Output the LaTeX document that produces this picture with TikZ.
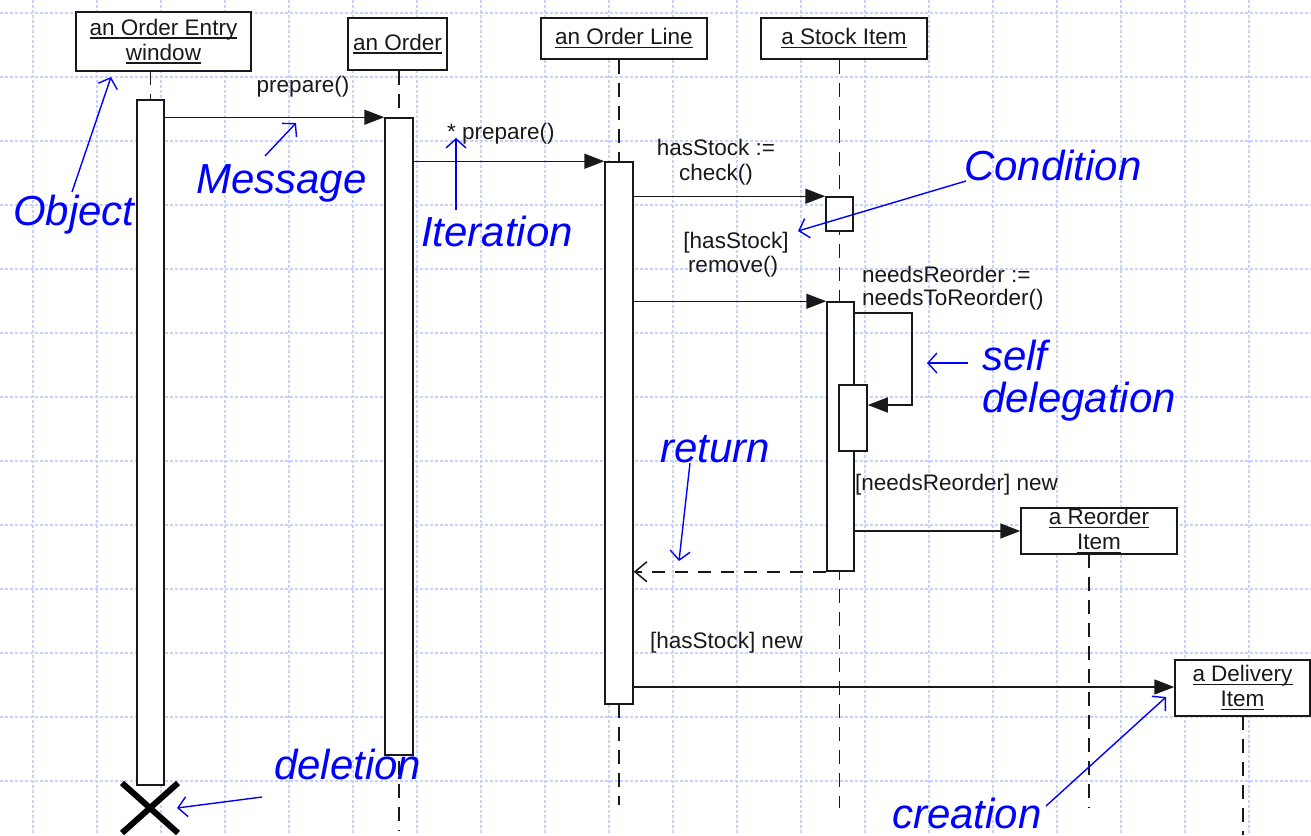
\documentclass[tikz,border=0pt]{standalone}
\usepackage{fontspec}
\setmainfont{Liberation Sans}
\usetikzlibrary{arrows.meta}
\definecolor{ink}{RGB}{25,25,25}
\definecolor{gridc}{RGB}{198,212,252}
\newcommand{\uln}[1]{\setbox0\hbox{#1}\rlap{\vrule height -2pt depth 3.4pt width \wd0}\box0}
\begin{document}
\begin{tikzpicture}[x=1pt,y=-1pt,
  gridline/.style={draw=gridc, line width=1.3pt, dash pattern=on 3pt off 2pt},
  obj/.style={draw=ink, line width=1.5pt, fill=white, align=center, text=ink,
    font=\fontsize{22.5}{25}\selectfont, inner sep=0pt},
  act/.style={draw=ink, line width=1.5pt, fill=white, inner sep=0pt},
  life/.style={draw=ink, line width=1.5pt, dash pattern=on 14pt off 9pt},
  msg/.style={draw=ink, line width=1.5pt, -{Triangle[length=20pt,width=15pt]}},
  ret/.style={draw=ink, line width=1.5pt, dash pattern=on 13pt off 10pt,
    -{Straight Barb[length=12pt,width=20pt]}},
  lbl/.style={text=ink, font=\fontsize{22.5}{25}\selectfont, inner sep=0pt},
  note/.style={text=blue, font=\fontsize{42}{46}\selectfont\itshape, inner sep=0pt},
  notearrow/.style={draw=blue, line width=1.4pt, -{Straight Barb[length=9pt,width=20pt]}},
  killmark/.style={draw=black, line width=6pt},
]
\useasboundingbox (0,0) rectangle (1311,835);
\fill[white] (0,0) rectangle (1311,835);
% grid
\foreach \i in {0,...,19} \draw[gridline] ({33+64*\i},0) -- ({33+64*\i},835);
\foreach \j in {0,...,12} \draw[gridline] (0,{13+64*\j}) -- (1311,{13+64*\j});

% objects
\node[obj, minimum width=175pt, minimum height=59pt] (oew) at (163.5,41.5) {\uln{an Order Entry}\\\uln{window}};
\node[obj, minimum width=99pt, minimum height=52pt] (ord) at (397.5,44) {\uln{an Order}};
\node[obj, minimum width=166pt, minimum height=41pt] (oline) at (624,38.5) {\uln{an Order Line}};
\node[obj, minimum width=166pt, minimum height=41pt] (stock) at (844,38.5) {\uln{a Stock Item}};

% lifeline ends
\coordinate (e2) at (399,830);
\coordinate (e3) at (619,805);
\coordinate (e4) at (839.5,808);
\coordinate (e5) at (1089,808);
\coordinate (e6) at (1243,835);

% lifelines
\draw[life] (150.5,71) -- (150.5,100);
\draw[life] (e2 |- ord.south) -- (e2);
\draw[life] (e3 |- oline.south) -- (e3);
\draw[life] (e4 |- stock.south) -- (e4);
\draw[life] (1089,554) -- (e5);
\draw[life] (1243,716) -- (e6);

% activation bars
\node[act, minimum width=27pt, minimum height=685pt] (a1) at (150.5,442.5) {};
\node[act, minimum width=28pt, minimum height=637pt] (a2) at (399,436.5) {};
\node[act, minimum width=28pt, minimum height=542pt] (a3) at (619,433) {};
\node[act, minimum width=27pt, minimum height=34pt] (a4) at (839.5,214) {};
\node[act, minimum width=27pt, minimum height=269pt] (a5) at (840.5,436.5) {};
\node[act, minimum width=28pt, minimum height=66pt] (a6) at (853,418) {};

% created objects
\node[obj, minimum width=156pt, minimum height=46pt] (reo) at (1099,531) {\uln{a Reorder}\\\uln{Item}};
\node[obj, minimum width=135pt, minimum height=56pt] (del) at (1242.5,688) {\uln{a Delivery}\\\uln{Item}};

% messages
\coordinate (sd) at (912,405);
\draw[msg] (a1.east |- a2.north) -- (a2.north west);
\draw[msg] (a2.east |- a3.north) -- (a3.north west);
\draw[msg] (a3.east |- a4.north) -- (a4.north west);
\draw[msg] (a3.east |- a5.north) -- (a5.north west);
\draw[msg] (a5.east |- 0,313) -| (sd) -- (a6.east |- sd);
\draw[msg] (a5.east |- reo.west) -- (reo.west);
\draw[ret] (a5.south west) -- (a3.east |- a5.south);
\draw[msg] (a3.east |- 0,687) -- (del.west |- 0,687);

% deletion mark
\coordinate (xc) at (150,808);
\draw[killmark] (122,783) -- (178,833) (122,833) -- (178,783);

% message labels
\node[lbl, anchor=base] (l1) at (303,92) {prepare()};
\node[lbl, anchor=base west] (l2) at (447,139) {* prepare()};
\node[lbl, anchor=base] (l3a) at (716,155) {hasStock :=};
\node[lbl, anchor=base] (l3b) at (716,180) {check()};
\node[lbl, anchor=base] (l4a) at (736,248) {[hasStock]};
\node[lbl, anchor=base] (l4b) at (733,272) {remove()};
\node[lbl, anchor=base west] (l5a) at (862,282) {needsReorder :=};
\node[lbl, anchor=base west] (l5b) at (862,305) {needsToReorder()};
\node[lbl, anchor=base west] (l6) at (855,490) {[needsReorder] new};
\node[lbl, anchor=base west] (l7) at (650,648) {[hasStock] new};

% annotations
\node[note, anchor=base west] (nobj) at (13,225) {Object};
\node[note, anchor=base west] (nmsg) at (196,193) {Message};
\node[note, anchor=base west] (nit) at (421,246) {Iteration};
\node[note, anchor=base west] (ncond) at (964,180) {Condition};
\node[note, anchor=base west] (nself) at (982,370) {self};
\node[note, anchor=base west] (ndel) at (982,412) {delegation};
\node[note, anchor=base west] (nret) at (660,462) {return};
\node[note, anchor=base west] (ndeln) at (274,779) {deletion};
\node[note, anchor=base west] (ncre) at (892,828) {creation};

\coordinate (tobj) at (111,77);
\coordinate (tmsg) at (296,123);
\coordinate (tit) at (456,138);
\coordinate (tcond) at (798,231);
\coordinate (tself) at (927,363);
\coordinate (tret) at (679,561);
\coordinate (tcre) at (1166,697);

\draw[notearrow] (72,192) -- (tobj);
\draw[notearrow] (265,156) -- (tmsg);
\draw[notearrow] (456,210) -- (tit);
\draw[notearrow] (966,181) -- (tcond);
\draw[notearrow] (968,363) -- (tself);
\draw[notearrow] (690,463) -- (tret);
\draw[notearrow] (262,797) -- (xc -| 177,0);
\draw[notearrow] (1046,806) -- (tcre);
\end{tikzpicture}
\end{document}
